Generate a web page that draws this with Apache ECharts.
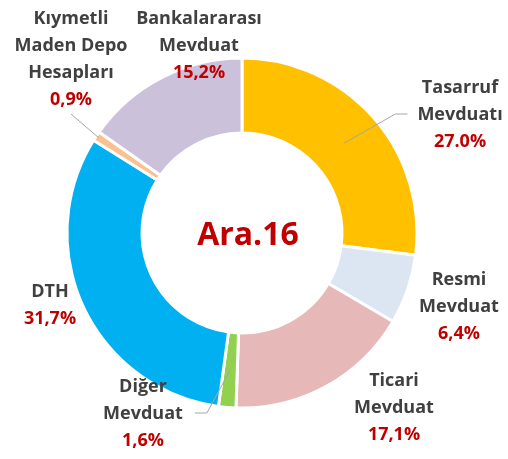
<!DOCTYPE html>
<html>
<head>
<meta charset="utf-8">
<script src="https://cdn.jsdelivr.net/npm/echarts@6/dist/echarts.min.js"></script>
<style>
  html, body { margin: 0; padding: 0; background: #fff; }
  #chart { width: 508px; height: 459px; }
</style>
</head>
<body>
<div id="chart"></div>
<script>
// veriler (saat yönünde, tepeden başlayarak)
var names = ['Tasarruf\nMevduatı', 'Resmi\nMevduat', 'Ticari\nMevduat', 'Diğer\nMevduat', 'DTH', 'Kıymetli\nMaden Depo\nHesapları', 'Bankalararası\nMevduat'];
var values = [27.0, 6.4, 17.1, 1.6, 31.7, 0.9, 15.2];
var pctLabels = ['27.0%', '6,4%', '17,1%', '1,6%', '31,7%', '0,9%', '15,2%'];
var colors = ['#FFC000', '#DCE6F2', '#E6B9B8', '#92D050', '#00B0F0', '#FAC090', '#CCC1DA'];

// etiket konumları: [orta x, üst y]
var labelPos = [[460, 74], [459, 266], [394, 367], [143, 373], [50, 278], [71, 5], [199, 5]];
// etiket çizgileri: başlangıç yarıçapı ve etikete bağlandığı taraf
var lineSpec = [{ r: 136, side: 'left' }, null, null, { r: 137, side: 'right' }, null, { r: 172, side: 'bottom' }, null];

var cx = 242, cy = 233;
var total = values.reduce(function (a, b) { return a + b; }, 0);
var midAngle = [];
var cum = 0;
values.forEach(function (v) {
  midAngle.push((cum + v / 2) / total * Math.PI * 2);
  cum += v;
});

var myChart = echarts.init(document.getElementById('chart'));

// dilimler
var sliceData = names.map(function (n, i) {
  return { name: n, value: values[i], itemStyle: { color: colors[i] } };
});
// etiketler için şeffaf kopya (çizgiler dilimlerin üstünde kalsın)
var labelData = names.map(function (n, i) {
  return { name: n, value: values[i], labelLine: { show: !!lineSpec[i] } };
});

var option = {
  animation: false,
  graphic: [{
    type: 'text',
    x: 248,
    y: 236,
    style: {
      text: 'Ara.16',
      font: 'bold 32px "Open Sans"',
      fill: '#C00000',
      align: 'center',
      verticalAlign: 'middle'
    }
  }],
  series: [{
    type: 'pie',
    center: [cx, cy],
    radius: [100, 175],
    startAngle: 90,
    clockwise: true,
    silent: true,
    itemStyle: { borderColor: '#fff', borderWidth: 3 },
    label: { show: false },
    labelLine: { show: false },
    data: sliceData
  }, {
    type: 'pie',
    z: 5,
    center: [cx, cy],
    radius: [100, 175],
    startAngle: 90,
    clockwise: true,
    avoidLabelOverlap: false,
    silent: true,
    itemStyle: { color: 'rgba(0,0,0,0)', borderWidth: 0 },
    label: {
      show: true,
      position: 'outside',
      formatter: function (p) {
        return '{n|' + p.name.split('\n').join('}\n{n|') + '}\n{p|' + pctLabels[p.dataIndex] + '}';
      },
      rich: {
        n: { fontFamily: 'Open Sans', fontWeight: 'bold', fontSize: 18, color: '#404040', lineHeight: 27, align: 'center' },
        p: { fontFamily: 'Open Sans', fontWeight: 'bold', fontSize: 18, color: '#C00000', lineHeight: 27, align: 'center' }
      }
    },
    labelLine: {
      showAbove: true,
      length: 10,
      length2: 10,
      lineStyle: { color: '#A6A6A6', width: 1 }
    },
    labelLayout: function (params) {
      var i = params.dataIndex;
      var p = labelPos[i];
      var out = { x: p[0], y: p[1], align: 'center', verticalAlign: 'top' };
      var s = lineSpec[i];
      if (s) {
        var w = params.labelRect.width, h = params.labelRect.height;
        var a = midAngle[i];
        var start = [cx + s.r * Math.sin(a), cy - s.r * Math.cos(a)];
        var end, elbow;
        if (s.side === 'left') {
          end = [p[0] - w / 2 - 10, p[1] + 40];
          elbow = [end[0] - 12, end[1]];
        } else if (s.side === 'right') {
          end = [p[0] + w / 2 + 12, p[1] + 40];
          elbow = [end[0] + 12, end[1]];
        } else {
          end = [p[0], p[1] + h + 10];
          elbow = end;
        }
        out.labelLinePoints = [start, elbow, end];
      }
      return out;
    },
    data: labelData
  }]
};

myChart.setOption(option);
</script>
</body>
</html>
